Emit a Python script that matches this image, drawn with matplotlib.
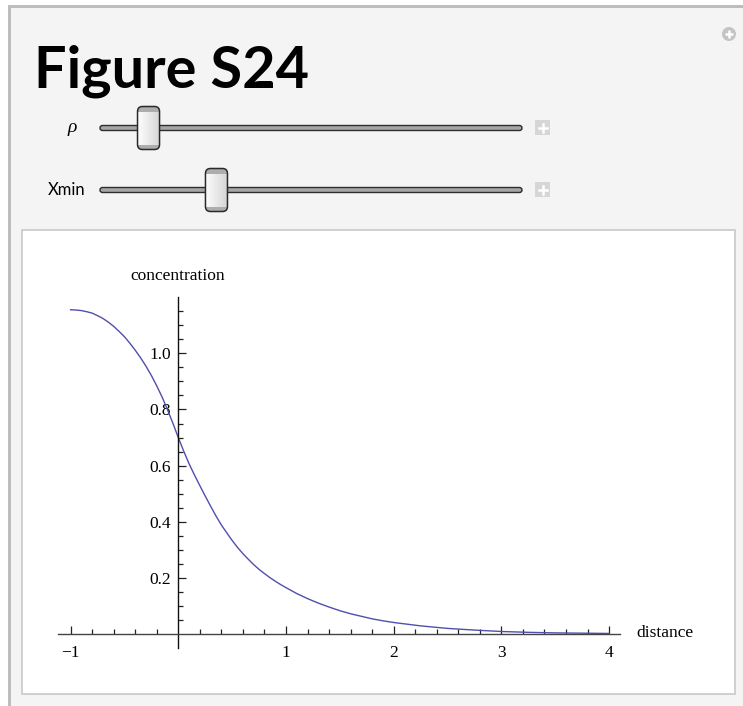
import numpy as np
import matplotlib
matplotlib.use("Agg")
import matplotlib.pyplot as plt
from matplotlib.patches import Rectangle, FancyBboxPatch, Circle
from matplotlib.colors import LinearSegmentedColormap
from matplotlib.ticker import FixedLocator, NullFormatter

# concentration profile read along the distance axis
distance = [-1.0, -0.95, -0.9, -0.85, -0.8, -0.75, -0.7, -0.65, -0.6, -0.55,
            -0.5, -0.45, -0.4, -0.35, -0.3, -0.25, -0.2, -0.15, -0.1, -0.05,
            0.0, 0.05, 0.1, 0.15, 0.2, 0.25, 0.3, 0.35, 0.4, 0.45,
            0.5, 0.55, 0.6, 0.65, 0.7, 0.75, 0.8, 0.85, 0.9, 0.95,
            1.0, 1.1, 1.2, 1.3, 1.4, 1.5, 1.6, 1.7, 1.8, 1.9,
            2.0, 2.25, 2.5, 2.75, 3.0, 3.25, 3.5, 3.75, 4.0]
concentration = [1.155, 1.154, 1.152, 1.148, 1.143, 1.134, 1.124, 1.111, 1.096, 1.078,
                 1.059, 1.036, 1.011, 0.984, 0.954, 0.921, 0.884, 0.844, 0.799, 0.751,
                 0.700, 0.652, 0.607, 0.567, 0.529, 0.492, 0.456, 0.421, 0.389, 0.361,
                 0.334, 0.309, 0.287, 0.267, 0.248, 0.231, 0.216, 0.202, 0.189, 0.177,
                 0.166, 0.145, 0.127, 0.111, 0.097, 0.084, 0.073, 0.064, 0.055, 0.048,
                 0.042, 0.030, 0.021, 0.015, 0.010, 0.007, 0.005, 0.004, 0.003]

x_major = [-1, 1, 2, 3, 4]
x_labels = ["\u22121", "1", "2", "3", "4"]
y_major = [0.2, 0.4, 0.6, 0.8, 1.0]
y_labels = ["0.2", "0.4", "0.6", "0.8", "1.0"]

# slider settings: (label, thumb position as fraction of the track)
sliders = [("\u03c1", 0.115), ("Xmin", 0.276)]

W, H = 743, 706
fig = plt.figure(figsize=(W / 100, H / 100), dpi=100, facecolor="#f4f4f4")

# panel chrome, drawn in pixel coordinates
bg = fig.add_axes([0, 0, 1, 1], zorder=0)
bg.axis("off")
bg.add_patch(Rectangle((0, 0), W, 5, color="white", lw=0))
bg.add_patch(Rectangle((0, 0), 8, H, color="white", lw=0))
bg.add_patch(Rectangle((8, 5), W, 3, color="#bdbdbd", lw=0))
bg.add_patch(Rectangle((8, 5), 3, H, color="#bdbdbd", lw=0))
bg.add_patch(Rectangle((22, 230), 713, 464, facecolor="white",
                       edgecolor="#c8c8c8", lw=1.2))

# corner button
bg.add_patch(Circle((729, 34), 7, color="#c4c4c4", lw=0))
bg.plot([725, 733], [34, 34], color="white", lw=1.8, solid_capstyle="butt")
bg.plot([729, 729], [30, 38], color="white", lw=1.8, solid_capstyle="butt")

bg.text(34, 88, "Figure S24", fontsize=41.5, fontweight="bold",
        family=["Lato", "DejaVu Sans"], va="baseline", ha="left")

track_x0, track_x1 = 100, 522
grad = np.linspace(0, 1, 64).reshape(1, -1)
thumb_cmap = LinearSegmentedColormap.from_list("thumb", ["#fdfdfd", "#d6d6d6"])
for i, (label, frac) in enumerate(sliders):
    yc = 128 + 62 * i
    if i == 0:
        bg.text(77, yc, label, fontsize=14, style="italic",
                family=["Liberation Serif"], ha="right", va="center")
    else:
        bg.text(85, yc, label, fontsize=12,
                family=["Lato", "DejaVu Sans"], ha="right", va="center")
    bg.add_patch(FancyBboxPatch((track_x0, yc - 2.5), track_x1 - track_x0, 5,
                                boxstyle="round,pad=0,rounding_size=2.5",
                                facecolor="#a6a6a6", edgecolor="#2e2e2e", lw=1.0))
    tx = track_x0 + frac * (track_x1 - track_x0)
    thumb = FancyBboxPatch((tx - 11, yc - 21.5), 22, 43,
                           boxstyle="round,pad=0,rounding_size=5",
                           facecolor="none", edgecolor="#2a2a2a", lw=1.1, zorder=4)
    bg.add_patch(thumb)
    img = bg.imshow(grad, cmap=thumb_cmap,
                    extent=(tx - 11, tx + 11, yc + 21.5, yc - 21.5),
                    aspect="auto", zorder=3)
    img.set_clip_path(thumb)
    for cy in (yc - 21.5, yc + 16.5):
        cap = Rectangle((tx - 11, cy), 22, 5, color="#adadad", lw=0, zorder=3.5)
        bg.add_patch(cap)
        cap.set_clip_path(thumb)
    # increment box
    bg.add_patch(Rectangle((535, yc - 8), 15, 15, color="#d6d6d6", lw=0))
    bg.plot([538.5, 546.5], [yc - 0.5, yc - 0.5], color="white", lw=1.8)
    bg.plot([542.5, 542.5], [yc - 4.5, yc + 3.5], color="white", lw=1.8)
bg.set_xlim(0, W)
bg.set_ylim(H, 0)

# plot region: x 0 -> 178.3 px, 107.7 px per unit; y 0 -> 634.3 px, 281 px per unit
px0, px1, py0, py1 = 40, 640, 290, 660
ax = fig.add_axes([px0 / W, 1 - py1 / H, (px1 - px0) / W, (py1 - py0) / H], zorder=1)
ax.set_facecolor("none")
ax.set_xlim((px0 - 178.3) / 107.7, (px1 - 178.3) / 107.7)
ax.set_ylim((634.3 - py1) / 281, (634.3 - py0) / 281)

ax.plot(distance, concentration, color="#4f4fae", lw=1.0)

for s in ("top", "right"):
    ax.spines[s].set_visible(False)
ax.spines["left"].set_position(("data", 0))
ax.spines["bottom"].set_position(("data", 0))
ax.spines["left"].set_bounds(-0.05, 1.2)
ax.spines["bottom"].set_bounds(-1.12, 4.1)
ax.spines["left"].set_color("#111111")
ax.spines["bottom"].set_color("#444444")
for s in ("left", "bottom"):
    ax.spines[s].set_linewidth(1.0)

ax.xaxis.set_major_locator(FixedLocator(x_major))
ax.set_xticklabels(x_labels)
ax.xaxis.set_minor_locator(FixedLocator(
    [v for v in np.round(np.arange(-1.0, 4.01, 0.2), 2) if v not in x_major and v != 0]))
ax.yaxis.set_major_locator(FixedLocator(y_major))
ax.set_yticklabels(y_labels)
ax.yaxis.set_minor_locator(FixedLocator(
    [v for v in np.round(np.arange(0.05, 1.16, 0.05), 2) if v not in y_major]))
ax.xaxis.set_minor_formatter(NullFormatter())
ax.yaxis.set_minor_formatter(NullFormatter())

ax.tick_params(which="both", direction="in", color="#222222", width=0.9,
               labelsize=12.5, labelfontfamily="Liberation Serif")
ax.tick_params(which="major", length=6)
ax.tick_params(which="minor", length=3.5)
ax.tick_params(axis="y", which="major", pad=5)
ax.tick_params(axis="x", which="major", pad=8)

bg.text(178, 276, "concentration", fontsize=12.5, family=["Liberation Serif"],
        ha="center", va="center")
bg.text(636, 633, "distance", fontsize=12.5, family=["Liberation Serif"],
        ha="left", va="center")

fig.savefig("out.png", dpi=100, facecolor=fig.get_facecolor())
